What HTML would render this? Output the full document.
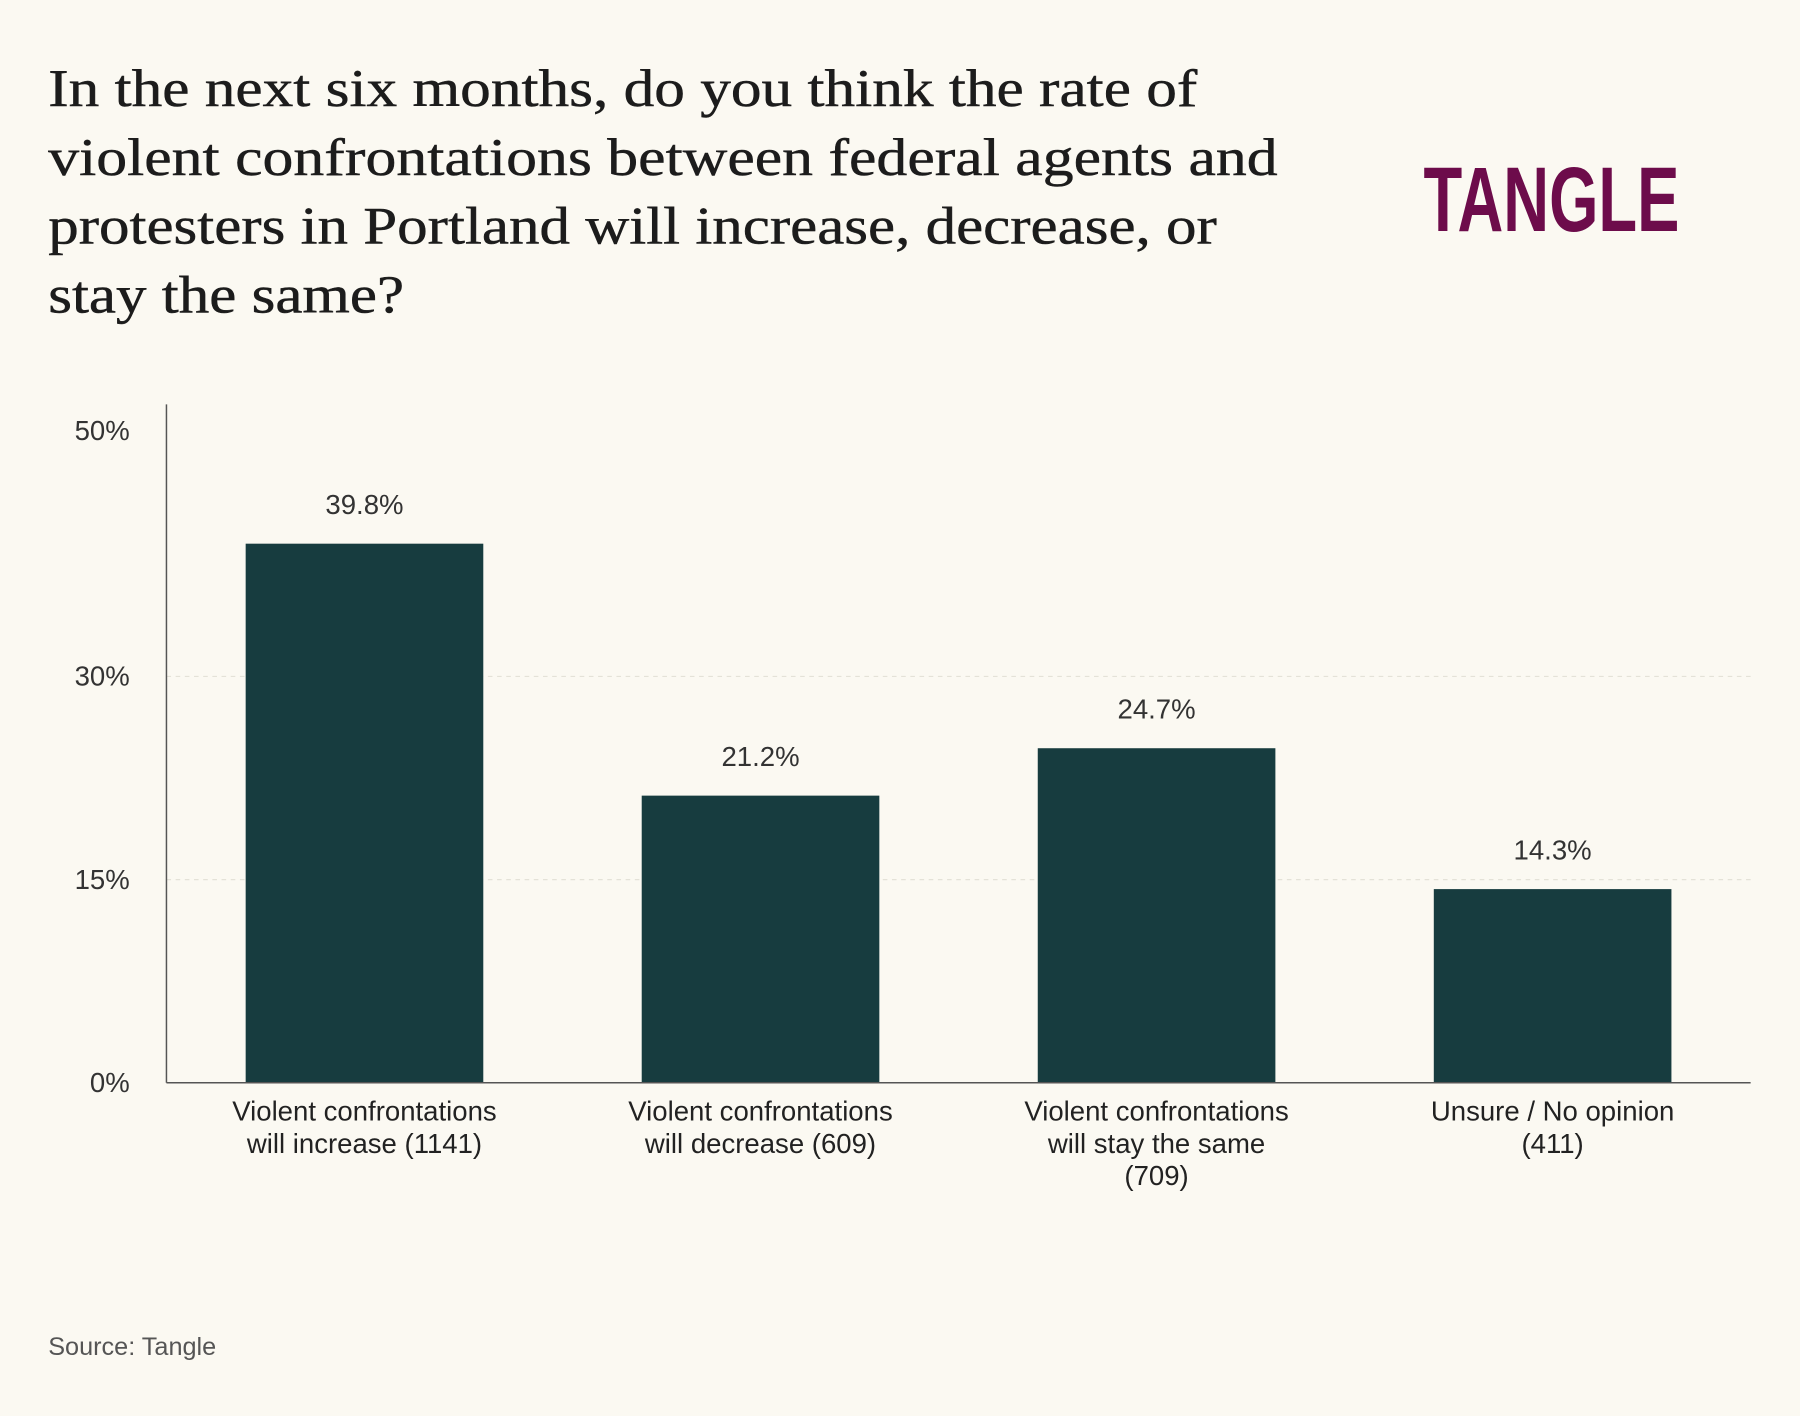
<!DOCTYPE html>
<html><head><meta charset="utf-8"><style>
html,body{margin:0;padding:0;background:#fbf9f2;}
svg{display:block;}
</style></head><body>
<svg width="1800" height="1416" viewBox="0 0 1568 1233" xmlns="http://www.w3.org/2000/svg">
<rect width="1568" height="1233" fill="#fbf9f2"/>
<g font-family="'Liberation Serif', serif" font-size="46" fill="#1c1c1c" stroke="#1c1c1c" stroke-width="0.4">
<text x="42" y="92" textLength="1001" lengthAdjust="spacingAndGlyphs">In the next six months, do you think the rate of</text>
<text x="42" y="152" textLength="1071" lengthAdjust="spacingAndGlyphs">violent confrontations between federal agents and</text>
<text x="42" y="212" textLength="1018" lengthAdjust="spacingAndGlyphs">protesters in Portland will increase, decrease, or</text>
<text x="42" y="272" textLength="310" lengthAdjust="spacingAndGlyphs">stay the same?</text>
</g>
<text x="1240" y="201" font-family="'Liberation Sans', sans-serif" font-weight="bold" font-size="80" fill="#6d0c4b" textLength="223" lengthAdjust="spacingAndGlyphs">TANGLE</text>
<g id="plot" font-family="'Liberation Sans', sans-serif"></g>
<text x="42" y="1180" font-family="'Liberation Sans', sans-serif" font-size="22" fill="#555">Source: Tangle</text>
</svg>
<script>
const categories = [["Violent confrontations","will increase (1141)"],["Violent confrontations","will decrease (609)"],["Violent confrontations","will stay the same","(709)"],["Unsure / No opinion","(411)"]];
const values = [39.8, 21.2, 24.7, 14.3];
const valueLabels = ["39.8%","21.2%","24.7%","14.3%"];
const ticks = [0, 15, 30, 50];
const tickLabels = ["0%","15%","30%","50%"];
const NS = "http://www.w3.org/2000/svg";
const g = document.getElementById("plot");
const x0 = 145, x1 = 1525, yBase = 943, pxPer = 11.8, yTop = 352;
const band = (x1 - x0) / categories.length;
const y = v => yBase - v * pxPer;
const xc = i => x0 + band * (i + 0.5);
function mk(tag, attrs){const e=document.createElementNS(NS,tag);for(const k in attrs)e.setAttribute(k,attrs[k]);g.appendChild(e);return e;}
ticks.forEach((t,i)=>{
  if(t>0 && t<50){
    const gl=mk("line",{x1:x0,x2:x1,y1:y(t),y2:y(t),stroke:"#e4e2d8","stroke-dasharray":"4 4"});
    
    
  }
  const ty = t===50 ? yTop+31 : y(t)+8;
  const tl=mk("text",{x:113,y:ty,"text-anchor":"end","font-size":24,fill:"#333"});
  tl.textContent=tickLabels[i];
  
  
});
values.forEach((v,i)=>{
  const bw = band*0.6;
  const b=mk("rect",{x:xc(i)-bw/2,y:y(v),width:bw,height:yBase-y(v),fill:"#173c3f"});
  
  
  const vl=mk("text",{x:xc(i),y:y(v)-26,"text-anchor":"middle","font-size":24,fill:"#333"});
  vl.textContent=valueLabels[i];
  
  
  categories[i].forEach((ln,j)=>{
    const c=mk("text",{x:xc(i),y:976+j*28,"text-anchor":"middle","font-size":24,fill:"#222"});
    c.textContent=ln;
    
    
  });
});
const ya=mk("line",{x1:x0,x2:x0,y1:yTop,y2:yBase,stroke:"#555","stroke-width":1.3});


const xa=mk("line",{x1:x0,x2:x1,y1:yBase,y2:yBase,stroke:"#555","stroke-width":1.3});


</script>
</body></html>
